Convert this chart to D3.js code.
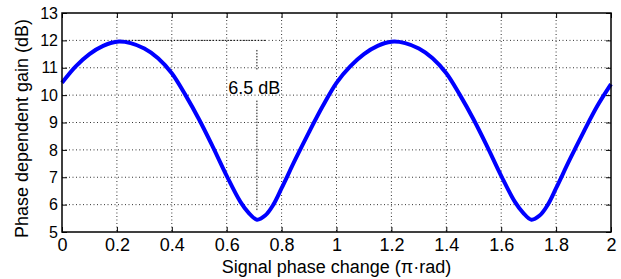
<!DOCTYPE html>
<html>
<head>
<meta charset="utf-8">
<script src="https://cdn.jsdelivr.net/npm/d3@7"></script>
<style>
  body { margin: 0; background: #fff; }
  text { font-family: "Liberation Sans", Arial, sans-serif; fill: #000; }
</style>
</head>
<body>
<div id="chart"></div>
<script>
// values
var phase = [0, 0.05, 0.1, 0.15, 0.2, 0.25, 0.3, 0.35, 0.4, 0.45, 0.5, 0.55, 0.6, 0.65, 0.68, 0.71, 0.74, 0.77, 0.8, 0.85, 0.9, 0.95,
             1, 1.05, 1.1, 1.15, 1.2, 1.25, 1.3, 1.35, 1.4, 1.45, 1.5, 1.55, 1.6, 1.65, 1.68, 1.71, 1.74, 1.77, 1.8, 1.85, 1.9, 1.95, 2];
var gain  = [10.45, 11.05, 11.5, 11.8, 11.95, 11.9, 11.7, 11.35, 10.8, 10.0, 9.1, 8.1, 7.05, 6.1, 5.7, 5.45, 5.6, 6.0, 6.6, 7.65, 8.65, 9.6,
             10.45, 11.05, 11.5, 11.8, 11.95, 11.9, 11.7, 11.35, 10.8, 10.0, 9.1, 8.1, 7.05, 6.1, 5.7, 5.45, 5.6, 6.0, 6.6, 7.65, 8.65, 9.6, 10.4];
var xTicks = [0, 0.2, 0.4, 0.6, 0.8, 1, 1.2, 1.4, 1.6, 1.8, 2];
var yTicks = [5, 6, 7, 8, 9, 10, 11, 12, 13];
var annotText = "6.5 dB";
var peakAt = 0.21, dipAt = 0.71;

const margin = {top: 13, right: 10, bottom: 47, left: 62};
const width = 621 - margin.left - margin.right;
const height = 279 - margin.top - margin.bottom;

var svg = d3.select("#chart").append("svg")
    .attr("width", 621).attr("height", 279)
  .append("g")
    .attr("transform", `translate(${margin.left},${margin.top})`);

var x = d3.scaleLinear().domain([0, 2]).range([0, width]);
var y = d3.scaleLinear().domain([5, 13]).range([height, 0]);

// dotted grid
svg.append("g").selectAll("line").data(xTicks.slice(1, -1)).enter().append("line")
  .attr("x1", d => x(d)).attr("x2", d => x(d)).attr("y1", 0).attr("y2", height)
  .attr("stroke", "#333").attr("stroke-dasharray", "1,2.5");
svg.append("g").selectAll("line").data(yTicks.slice(1, -1)).enter().append("line")
  .attr("y1", d => y(d)).attr("y2", d => y(d)).attr("x1", 0).attr("x2", width)
  .attr("stroke", "#333").attr("stroke-dasharray", "1,2.5");

// annotation lines
svg.append("line")
  .attr("x1", x(peakAt)).attr("x2", x(0.745)).attr("y1", y(12)).attr("y2", y(12))
  .attr("stroke", "#111").attr("stroke-dasharray", "1.5,1.5");
svg.append("line")
  .attr("x1", x(dipAt)).attr("x2", x(dipAt)).attr("y1", y(11.65)).attr("y2", y(10.9))
  .attr("stroke", "#111").attr("stroke-dasharray", "1.5,1.5");
svg.append("line")
  .attr("x1", x(dipAt)).attr("x2", x(dipAt)).attr("y1", y(9.8)).attr("y2", y(5.8))
  .attr("stroke", "#111").attr("stroke-dasharray", "1.5,1.5");
svg.append("text")
  .attr("x", x(0.7)).attr("y", y(10.05))
  .attr("text-anchor", "middle").style("font-size", "18px")
  .text(annotText);

// curve
var pts = phase.map((p, i) => [p, gain[i]]);
svg.append("path").datum(pts)
  .attr("fill", "none").attr("stroke", "#0000ff").attr("stroke-width", 4)
  .attr("stroke-linejoin", "round")
  .attr("d", d3.line().x(d => x(d[0])).y(d => y(d[1])).curve(d3.curveCatmullRom));

// axes, ticks pointing inwards on all four sides
function styleAxis(size) {
  return function(g) {
    g.select(".domain").remove();
    g.selectAll("line").attr("stroke", "#000");
    g.selectAll("text").style("font-size", size);
  };
}
svg.append("g").attr("transform", `translate(0,${height})`)
  .call(d3.axisBottom(x).tickValues(xTicks).tickFormat(d3.format("")).tickSizeInner(-5).tickPadding(6))
  .call(styleAxis("18px"));
svg.append("g")
  .call(d3.axisTop(x).tickValues(xTicks).tickSizeInner(-5).tickFormat(""))
  .call(styleAxis("18px"));
svg.append("g")
  .call(d3.axisLeft(y).tickValues(yTicks).tickSizeInner(-5).tickPadding(4))
  .call(styleAxis("16px"));
svg.append("g").attr("transform", `translate(${width},0)`)
  .call(d3.axisRight(y).tickValues(yTicks).tickSizeInner(-5).tickFormat(""))
  .call(styleAxis("16px"));

svg.append("rect").attr("width", width).attr("height", height)
  .attr("fill", "none").attr("stroke", "#000").attr("stroke-width", 1.5);

// axis titles
svg.append("text")
  .attr("x", width / 2).attr("y", height + 41)
  .attr("text-anchor", "middle").style("font-size", "18px")
  .text("Signal phase change (π·rad)");
svg.append("text")
  .attr("transform", `translate(${-34},${height / 2 + 6}) rotate(-90)`)
  .attr("text-anchor", "middle").style("font-size", "18px")
  .text("Phase dependent gain (dB)");
</script>
</body>
</html>
